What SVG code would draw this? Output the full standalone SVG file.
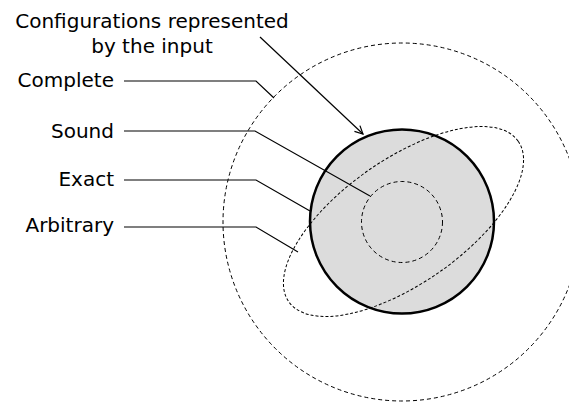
<svg xmlns="http://www.w3.org/2000/svg" width="569" height="402" viewBox="0 0 569 402">
<defs>
<style>
text{font-family:"DejaVu Sans",sans-serif;font-size:20px;fill:#000}
.lbl{text-anchor:end}
.dash{fill:none;stroke:#000;stroke-width:1;stroke-dasharray:4,3}
.lead{fill:none;stroke:#000;stroke-width:1.2}
</style>
<marker id="arr" viewBox="0 0 10 10" refX="9" refY="5" markerWidth="10" markerHeight="10" markerUnits="userSpaceOnUse" orient="auto">
<path d="M1,1 L9,5 L1,9" fill="none" stroke="#000" stroke-width="1.2"/>
</marker>
</defs>
<rect width="569" height="402" fill="#fff"/>
<g id="complete-region"><circle cx="402" cy="222" r="179" class="dash"/></g>
<g id="input-config"><circle cx="402" cy="221.5" r="92" fill="#dcdcdc" stroke="#000" stroke-width="2.5"/></g>
<g id="sound-region"><circle cx="402" cy="222" r="40.5" class="dash"/></g>
<g id="arbitrary-region"><ellipse cx="403.5" cy="221.5" rx="140" ry="62" transform="rotate(-35 403.5 221.5)" class="dash" style="stroke-dasharray:3,2"/></g>
<g id="labels">
<text x="152" y="28" text-anchor="middle">Configurations represented</text>
<text x="152" y="53" text-anchor="middle">by the input</text>
<text x="114" y="87" class="lbl">Complete</text>
<text x="114" y="138" class="lbl">Sound</text>
<text x="114" y="186" class="lbl">Exact</text>
<text x="114" y="232" class="lbl">Arbitrary</text>
</g>
<g id="connectors">
<path d="M260,37 L363,134" class="lead" marker-end="url(#arr)"/>
<path d="M124,81 H256 L274,98" class="lead"/>
<path d="M124,131 H255 L370,196" class="lead"/>
<path d="M124,180 H256 L310,211" class="lead"/>
<path d="M124,227 H256 L298,252" class="lead"/>
</g>
</svg>
